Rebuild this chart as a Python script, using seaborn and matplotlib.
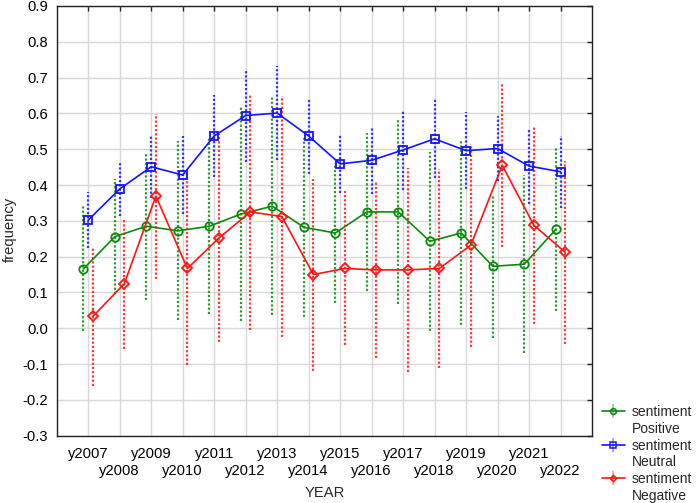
import matplotlib
matplotlib.use("Agg")
import matplotlib.pyplot as plt
from matplotlib.lines import Line2D
from matplotlib.legend_handler import HandlerTuple
import numpy as np
import pandas as pd
import seaborn as sns

years = ['y2007', 'y2008', 'y2009', 'y2010', 'y2011', 'y2012', 'y2013', 'y2014',
         'y2015', 'y2016', 'y2017', 'y2018', 'y2019', 'y2020', 'y2021', 'y2022']
positive = [0.166, 0.256, 0.285, 0.272, 0.285, 0.319, 0.341, 0.282,
            0.266, 0.325, 0.325, 0.243, 0.266, 0.173, 0.179, 0.276]
positive_err = [0.175, 0.160, 0.205, 0.250, 0.245, 0.300, 0.305, 0.250,
                0.195, 0.220, 0.257, 0.250, 0.256, 0.200, 0.248, 0.229]
neutral = [0.302, 0.389, 0.451, 0.428, 0.537, 0.594, 0.601, 0.537,
           0.459, 0.469, 0.498, 0.529, 0.496, 0.502, 0.453, 0.437]
neutral_err = [0.078, 0.075, 0.088, 0.110, 0.115, 0.130, 0.131, 0.106,
               0.082, 0.094, 0.112, 0.110, 0.108, 0.091, 0.107, 0.100]
negative = [0.033, 0.125, 0.369, 0.167, 0.252, 0.325, 0.312, 0.150,
            0.167, 0.163, 0.163, 0.167, 0.232, 0.455, 0.288, 0.212]
negative_err = [0.193, 0.184, 0.230, 0.270, 0.290, 0.330, 0.336, 0.268,
                0.215, 0.245, 0.285, 0.277, 0.283, 0.229, 0.277, 0.256]
series_names = ['Positive', 'Neutral', 'Negative']
legend_labels = ['sentiment', 'Positive', 'sentiment', 'Neutral', 'sentiment', 'Negative']

sns.set_style("white")
plt.rcParams['font.family'] = ['Liberation Sans', 'DejaVu Sans']
FS = 10.6
LFS = 10.0

fig = plt.figure(figsize=(6.97, 5.03), dpi=100)
W, H = 697, 503
L, R, T, B = 56.7, 592, 6, 435.7
ax = fig.add_axes([L / W, 1 - B / H, (R - L) / W, (B - T) / H])

colors = {'Positive': '#0a8a0a', 'Neutral': '#1414ff', 'Negative': '#ff1414'}
markers = {'Positive': 'o', 'Neutral': 's', 'Negative': 'D'}
msizes = {'Positive': 6.0, 'Neutral': 5.8, 'Negative': 4.6}
offsets = {'Positive': -0.15, 'Neutral': 0.0, 'Negative': 0.15}
values = {'Positive': positive, 'Neutral': neutral, 'Negative': negative}
errs = {'Positive': positive_err, 'Neutral': neutral_err, 'Negative': negative_err}

idx = np.arange(len(years))
for name in series_names:
    c = colors[name]
    df = pd.DataFrame({'x': idx + offsets[name], 'y': values[name], 'e': errs[name]})
    eb = ax.errorbar(df['x'], df['y'], yerr=df['e'], fmt='none', ecolor=c,
                     elinewidth=1.6, capsize=0, zorder=2, alpha=0.85)
    for lc in eb[2]:
        lc.set_linestyle((0, (1, 0.9)))
    sns.lineplot(data=df, x='x', y='y', ax=ax, color=c, marker=markers[name],
                 markersize=msizes[name], markerfacecolor='none', markeredgecolor=c,
                 markeredgewidth=1.3, linewidth=1.2, legend=False, zorder=3,
                 estimator=None, sort=False)

ax.set_xlim(-1, 16)
ax.set_ylim(-0.3, 0.9)
yt = np.round(np.arange(-0.3, 0.91, 0.1), 1)
ax.set_yticks(yt)
ax.set_yticklabels([f"{v:.1f}" for v in yt])
ax.set_xticks(idx)
ax.set_xticklabels(years)
ax.grid(True, color='#d8d8d8', linewidth=1.0, zorder=0)
ax.set_axisbelow(True)
for s in ax.spines.values():
    s.set_color('#222222')
    s.set_linewidth(1.0)
    s.set_visible(True)
ax.tick_params(direction='in', length=3.5, width=1.0, color='#222222',
               top=True, right=True, labelsize=FS, labelcolor='black')
ax.tick_params(axis='y', pad=6.0)
for i, t in enumerate(ax.xaxis.get_major_ticks()):
    t.set_pad(7.8 if i % 2 == 0 else 20.3)

ax.set_xlabel('YEAR', fontsize=FS)
ax.set_ylabel('frequency', fontsize=FS)
ax.xaxis.set_label_coords(0.5, -0.118)
ax.yaxis.set_label_coords(-0.0742, 0.479)

handles = []
for name in series_names:
    c = colors[name]
    bar = Line2D([], [], color=c, marker='|', markersize=10, linestyle='none',
                 alpha=0.45, markeredgewidth=1.2)
    ln = Line2D([], [], color=c, marker=markers[name], markersize=msizes[name] * 0.7,
                markerfacecolor='none', markeredgecolor=c, markeredgewidth=1.1,
                linewidth=1.2)
    handles.append((bar, ln))
    handles.append(Line2D([], [], linestyle='none', marker=None))

fig.legend(handles, legend_labels, loc='upper left',
           bbox_to_anchor=(601.7 / W, 1 - 405 / H), frameon=False,
           borderpad=0, borderaxespad=0, handlelength=1.68, handletextpad=0.48,
           labelspacing=0.2, fontsize=LFS,
           handler_map={tuple: HandlerTuple(ndivide=1)})

fig.savefig('out.png', dpi=100)
